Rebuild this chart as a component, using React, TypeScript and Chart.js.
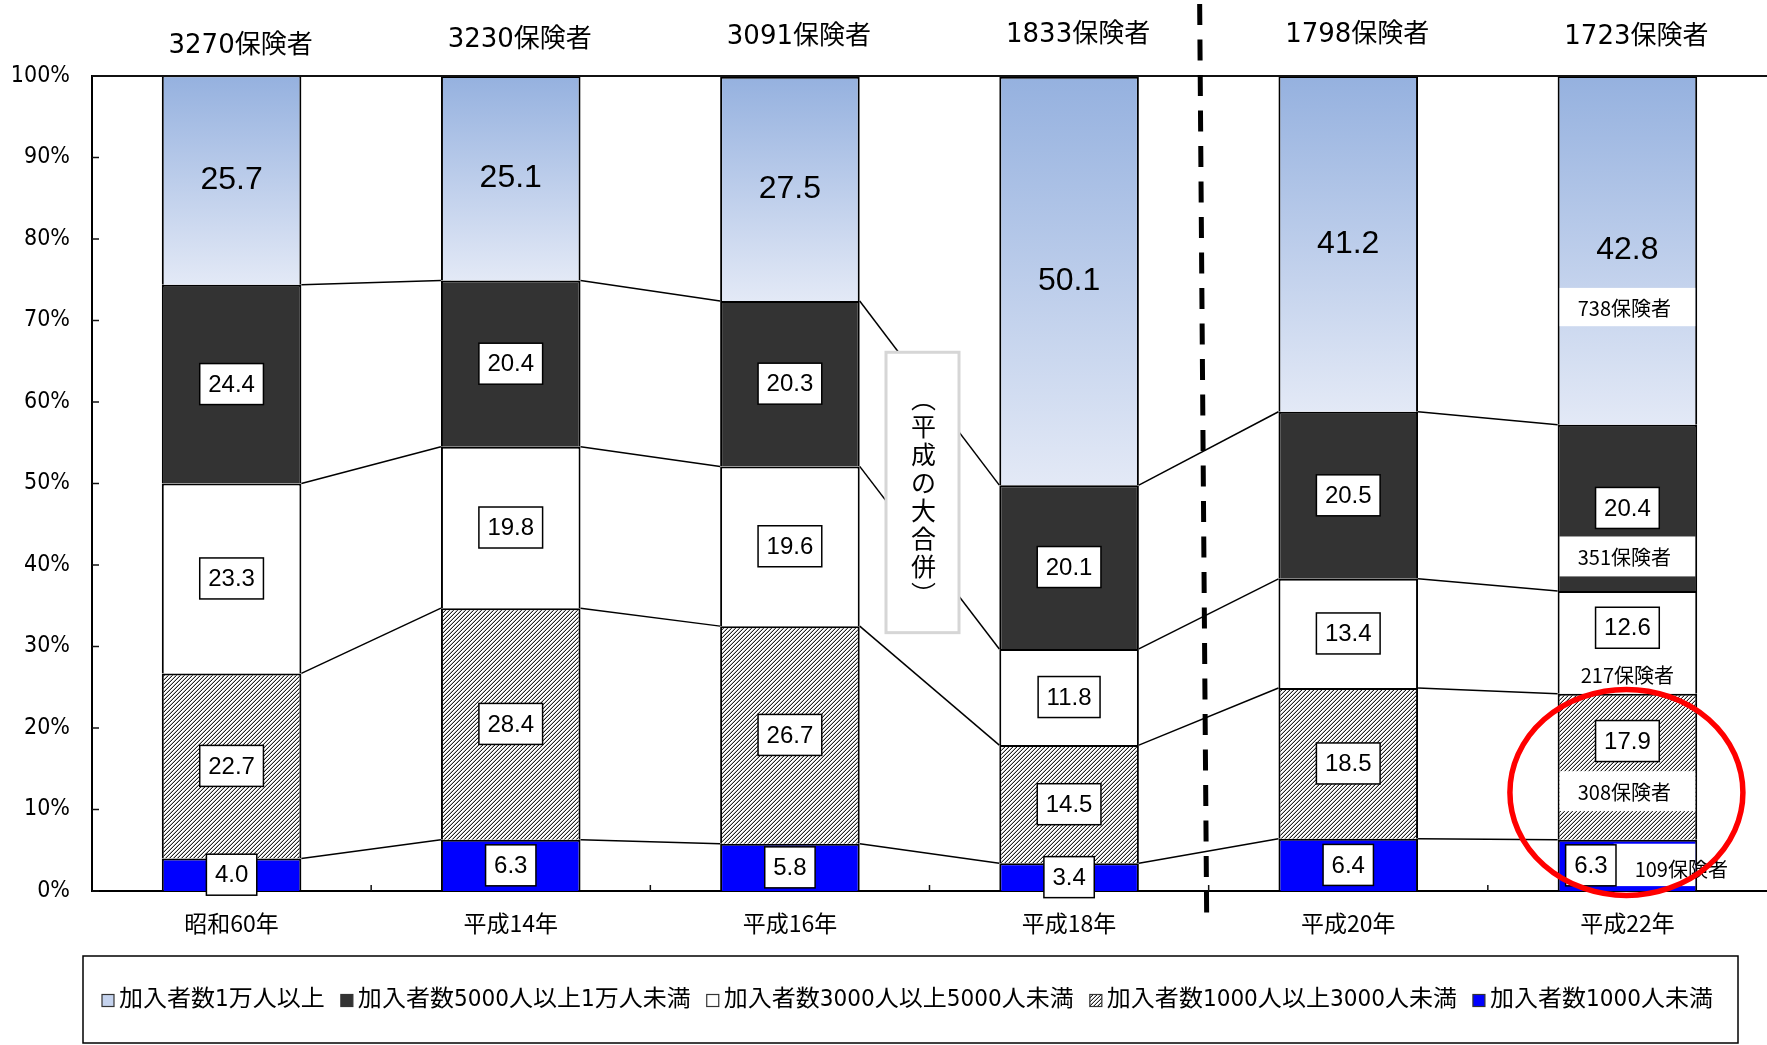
import React, { useEffect, useRef } from 'react';
import { Chart, registerables } from 'chart.js';

Chart.register(...registerables);

// ---- data ----
const CATEGORIES = ['昭和60年', '平成14年', '平成16年', '平成18年', '平成20年', '平成22年'];
const INSURER_TOTALS = ['3270保険者', '3230保険者', '3091保険者', '1833保険者', '1798保険者', '1723保険者'];
const SERIES_NAMES = [
  '加入者数1万人以上',
  '加入者数5000人以上1万人未満',
  '加入者数3000人以上5000人未満',
  '加入者数1000人以上3000人未満',
  '加入者数1000人未満',
];
const UNDER_1000 = [4.0, 6.3, 5.8, 3.4, 6.4, 6.3];
const FROM_1000_TO_3000 = [22.7, 28.4, 26.7, 14.5, 18.5, 17.9];
const FROM_3000_TO_5000 = [23.3, 19.8, 19.6, 11.8, 13.4, 12.6];
const FROM_5000_TO_10000 = [24.4, 20.4, 20.3, 20.1, 20.5, 20.4];
const OVER_10000 = [25.7, 25.1, 27.5, 50.1, 41.2, 42.8];
const Y_TICKS = [0, 10, 20, 30, 40, 50, 60, 70, 80, 90, 100];
// insurer counts per band in the latest year (top band first)
const LATEST_COUNTS = ['738保険者', '351保険者', '217保険者', '308保険者', '109保険者'];
const MERGER_NOTE = ['︵', '平', '成', 'の', '大', '合', '併', '︶'];

// ---- styles ----
const JP = '"Noto Sans CJK JP", sans-serif';
const WIDE_DIGITS = '"DejaVu Sans", "Noto Sans CJK JP", sans-serif';
const NARROW = '"Liberation Sans Narrow", "DejaVu Sans Condensed", "Noto Sans CJK JP", sans-serif';
const ARIAL = '"Liberation Sans", Arial, sans-serif';
const TOTAL_LABEL_DY = [7, 1, -2, -4, -4, -2];

function makeHatch(): CanvasPattern | string {
  const c = document.createElement('canvas');
  c.width = 4;
  c.height = 4;
  const g = c.getContext('2d');
  if (!g) return '#888';
  const img = g.createImageData(4, 4);
  for (let y = 0; y < 4; y++) {
    for (let x = 0; x < 4; x++) {
      const m = (x + y) % 4;
      const v = m === 3 ? 35 : m === 2 ? 185 : 255;
      const k = (y * 4 + x) * 4;
      img.data[k] = v;
      img.data[k + 1] = v;
      img.data[k + 2] = v;
      img.data[k + 3] = 255;
    }
  }
  g.putImageData(img, 0, 0);
  return g.createPattern(c, 'repeat') || '#888';
}

export default function App() {
  const ref = useRef<HTMLCanvasElement>(null);

  useEffect(() => {
    const canvas = ref.current;
    if (!canvas) return;
    const hatch = makeHatch();

    const topGradient = (c: any) => {
      const chart = c.chart;
      if (!chart.chartArea || c.type !== 'data') return '#BFCFEC';
      const i = c.dataIndex;
      const base = UNDER_1000[i] + FROM_1000_TO_3000[i] + FROM_3000_TO_5000[i] + FROM_5000_TO_10000[i];
      const ys = chart.scales.y;
      const top = ys.getPixelForValue(Math.min(100, base + OVER_10000[i]));
      const bot = ys.getPixelForValue(base);
      const g = chart.ctx.createLinearGradient(0, top, 0, bot);
      g.addColorStop(0, '#95B1DF');
      g.addColorStop(1, '#E3E9F6');
      return g;
    };

    const decor = {
      id: 'decor',
      afterDatasetsDraw(chart: any) {
        const ctx: CanvasRenderingContext2D = chart.ctx;
        const ys = chart.scales.y;
        const metas = [0, 1, 2, 3, 4].map((d) => chart.getDatasetMeta(d));
        const bars = metas[0].data;
        const n = bars.length;

        // connecting lines between bars at each stack boundary
        ctx.save();
        ctx.strokeStyle = '#000';
        ctx.lineWidth = 1.5;
        for (let d = 0; d < 4; d++) {
          const els = metas[d].data;
          for (let i = 0; i < n - 1; i++) {
            const a = els[i];
            const b = els[i + 1];
            ctx.beginPath();
            ctx.moveTo(a.x + a.width / 2, a.y);
            ctx.lineTo(b.x - b.width / 2, b.y);
            ctx.stroke();
          }
        }
        ctx.restore();

        // merger note box (between 3rd and 4th category)
        {
          const cx = (bars[2].x + bars[3].x) / 2 - 7;
          const top = ys.getPixelForValue(66.1);
          const bot = ys.getPixelForValue(31.7);
          const w = 73;
          ctx.save();
          ctx.fillStyle = '#fff';
          ctx.fillRect(cx - w / 2, top, w, bot - top);
          ctx.strokeStyle = '#D6D6D6';
          ctx.lineWidth = 3;
          ctx.strokeRect(cx - w / 2, top, w, bot - top);
          ctx.fillStyle = '#000';
          ctx.font = `25px ${JP}`;
          ctx.textAlign = 'center';
          ctx.textBaseline = 'middle';
          const mid = (top + bot) / 2 + 4;
          const step = 28;
          MERGER_NOTE.forEach((ch, k) => {
            const y = mid + (k - (MERGER_NOTE.length - 1) / 2) * step;
            ctx.fillText(ch, cx + 1, y);
          });
          ctx.restore();
        }

        // latest-year band annotations
        {
          const b = bars[n - 1];
          const left = b.x - b.width / 2;
          const right = b.x + b.width / 2;
          ctx.save();
          ctx.font = `20px ${JP}`;
          ctx.textBaseline = 'middle';
          const bands: [string, number, number][] = [
            [LATEST_COUNTS[0], 74.0, 69.3],
            [LATEST_COUNTS[1], 43.5, 38.6],
            [LATEST_COUNTS[3], 14.7, 9.8],
          ];
          bands.forEach(([t, hi, lo]) => {
            const y0 = ys.getPixelForValue(hi);
            const y1 = ys.getPixelForValue(lo);
            ctx.fillStyle = '#fff';
            ctx.fillRect(left + 2, y0, right - left - 4, y1 - y0);
            ctx.fillStyle = '#000';
            ctx.textAlign = 'center';
            ctx.fillText(t, b.x - 3, (y0 + y1) / 2 + 1);
          });
          ctx.textAlign = 'center';
          ctx.fillStyle = '#000';
          ctx.fillText(LATEST_COUNTS[2], b.x, ys.getPixelForValue(26.5));
          // smallest band note
          const y0 = ys.getPixelForValue(5.8);
          const y1 = ys.getPixelForValue(0.6);
          ctx.fillStyle = '#fff';
          ctx.fillRect(left + 56, y0, right - left - 58, y1 - y0);
          ctx.fillStyle = '#000';
          ctx.textAlign = 'left';
          ctx.fillText(LATEST_COUNTS[4], left + 77, ys.getPixelForValue(2.7));
          ctx.restore();
        }

        // value labels
        ctx.save();
        ctx.textAlign = 'center';
        ctx.textBaseline = 'middle';
        for (let d = 0; d < 5; d++) {
          const els = metas[d].data;
          const vals = chart.data.datasets[d].data as number[];
          for (let i = 0; i < n; i++) {
            const el = els[i];
            const txt = vals[i].toFixed(1);
            let cy = (el.y + el.base) / 2;
            let cx = el.x;
            if (d === 4) {
              ctx.font = `32px ${ARIAL}`;
              ctx.fillStyle = '#000';
              ctx.fillText(txt, cx, cy);
              continue;
            }
            ctx.font = `24px ${ARIAL}`;
            const tw = ctx.measureText(txt).width;
            const bw = tw + 17;
            const bh = 41;
            if (i === n - 1) {
              if (d === 2) cy = ys.getPixelForValue(32.3);
              if (d === 1) cy = ys.getPixelForValue(18.4);
              if (d === 0) cx = el.x - el.width / 2 + 8 + bw / 2;
            }
            ctx.fillStyle = '#fff';
            ctx.fillRect(cx - bw / 2, cy - bh / 2, bw, bh);
            ctx.strokeStyle = '#000';
            ctx.lineWidth = 1.5;
            ctx.strokeRect(cx - bw / 2, cy - bh / 2, bw, bh);
            ctx.fillStyle = '#000';
            ctx.fillText(txt, cx, cy + 1);
          }
        }
        ctx.restore();
      },
      afterDraw(chart: any) {
        const ctx: CanvasRenderingContext2D = chart.ctx;
        const ys = chart.scales.y;
        const area = chart.chartArea;
        const bars = chart.getDatasetMeta(0).data;
        const n = bars.length;

        ctx.save();
        // top frame line at 100%
        ctx.strokeStyle = '#111';
        ctx.lineWidth = 2;
        ctx.beginPath();
        ctx.moveTo(area.left, ys.getPixelForValue(100));
        ctx.lineTo(area.right, ys.getPixelForValue(100));
        ctx.stroke();
        // inside ticks on y axis
        ctx.lineWidth = 1.5;
        Y_TICKS.forEach((v) => {
          const y = ys.getPixelForValue(v);
          ctx.beginPath();
          ctx.moveTo(area.left, y);
          ctx.lineTo(area.left + 7, y);
          ctx.stroke();
        });
        // inside ticks on x axis (category boundaries)
        for (let i = 0; i < n - 1; i++) {
          const x = (bars[i].x + bars[i + 1].x) / 2;
          ctx.beginPath();
          ctx.moveTo(x, area.bottom);
          ctx.lineTo(x, area.bottom - 6);
          ctx.stroke();
        }

        // dashed divider between 4th and 5th category
        const xb = (bars[3].x + bars[4].x) / 2;
        ctx.strokeStyle = '#000';
        ctx.lineWidth = 5;
        ctx.setLineDash([21, 14.5]);
        ctx.beginPath();
        ctx.moveTo(xb - 9, 4);
        ctx.lineTo(xb - 2, 917);
        ctx.stroke();
        ctx.setLineDash([]);

        // red ellipse highlight on the latest year
        const last = bars[n - 1];
        ctx.strokeStyle = '#FF0000';
        ctx.lineWidth = 5.5;
        ctx.beginPath();
        ctx.ellipse(last.x - 1, ys.getPixelForValue(12.1), 116.5, 103, 0, 0, Math.PI * 2);
        ctx.stroke();

        // insurer totals above each bar
        ctx.fillStyle = '#000';
        ctx.font = `26px ${WIDE_DIGITS}`;
        ctx.textAlign = 'center';
        ctx.textBaseline = 'middle';
        INSURER_TOTALS.forEach((t, i) => {
          ctx.fillText(t, bars[i].x + 9, 39 + TOTAL_LABEL_DY[i]);
        });

        // legend
        const boxL = 83, boxR = 1738, boxT = 956, boxB = 1043;
        ctx.strokeStyle = '#000';
        ctx.lineWidth = 1.5;
        ctx.strokeRect(boxL, boxT, boxR - boxL, boxB - boxT);
        const fills: (string | CanvasPattern)[] = ['#C5D3EE', '#333333', '#FFFFFF', hatch, '#0000FF'];
        ctx.font = `23px ${NARROW}`;
        const widths = SERIES_NAMES.map((s) => ctx.measureText(s).width);
        const sw = 12, gapST = 5, gapItems = 16;
        const startX = 102, endX = 1713;
        const textTarget = endX - startX - SERIES_NAMES.length * (sw + gapST) - (SERIES_NAMES.length - 1) * gapItems;
        const sc = textTarget / widths.reduce((a, b) => a + b, 0);
        const ly = (boxT + boxB) / 2 + 1;
        let x = startX;
        ctx.textAlign = 'left';
        SERIES_NAMES.forEach((s, k) => {
          ctx.fillStyle = fills[k] as any;
          ctx.fillRect(x, ly - sw / 2, sw, sw);
          ctx.strokeStyle = '#333';
          ctx.lineWidth = 1.2;
          ctx.strokeRect(x, ly - sw / 2, sw, sw);
          x += sw + gapST;
          ctx.save();
          ctx.translate(x, ly);
          ctx.scale(sc, 1);
          ctx.fillStyle = '#000';
          ctx.fillText(s, 0, 0);
          ctx.restore();
          x += widths[k] * sc + gapItems;
        });
        ctx.restore();
      },
    };

    const chart = new Chart(canvas, {
      type: 'bar',
      data: {
        labels: CATEGORIES,
        datasets: [
          { label: SERIES_NAMES[4], data: UNDER_1000, backgroundColor: '#0000FF' },
          { label: SERIES_NAMES[3], data: FROM_1000_TO_3000, backgroundColor: hatch as any },
          { label: SERIES_NAMES[2], data: FROM_3000_TO_5000, backgroundColor: '#FFFFFF' },
          { label: SERIES_NAMES[1], data: FROM_5000_TO_10000, backgroundColor: '#333333' },
          { label: SERIES_NAMES[0], data: OVER_10000, backgroundColor: topGradient as any },
        ].map((d) => ({
          ...d,
          borderColor: '#000',
          borderWidth: 2,
          borderSkipped: 'start' as const,
          barPercentage: 1,
          categoryPercentage: 0.5,
        })),
      },
      options: {
        responsive: true,
        maintainAspectRatio: false,
        animation: false,
        layout: { padding: { top: 76, right: -4, left: 0, bottom: 0 } },
        plugins: {
          legend: { display: false },
          tooltip: { enabled: false },
        },
        scales: {
          x: {
            stacked: true,
            grid: { display: false, drawTicks: false },
            border: { display: true, color: '#000', width: 2 },
            ticks: {
              font: { family: JP, size: 23 },
              color: '#000',
              padding: 18,
              maxRotation: 0,
              autoSkip: false,
            },
            afterFit: (s: any) => {
              s.height = 154;
            },
          },
          y: {
            stacked: true,
            min: 0,
            max: 100,
            grid: { display: false, drawTicks: false },
            border: { display: true, color: '#000', width: 2 },
            ticks: {
              font: { family: NARROW, size: 23 },
              color: '#000',
              padding: 22,
              callback: (v: any) => `${v}%`,
            },
            afterBuildTicks: (s: any) => {
              s.ticks = Y_TICKS.map((v) => ({ value: v }));
            },
            afterFit: (s: any) => {
              s.width = 92;
            },
          },
        },
      },
      plugins: [decor],
    });

    return () => chart.destroy();
  }, []);

  return (
    <div style={{ width: 1767, height: 1045, position: 'relative', background: '#fff' }}>
      <style>{'html,body{margin:0;padding:0;overflow:hidden;background:#fff}'}</style>
      <canvas ref={ref} />
    </div>
  );
}
